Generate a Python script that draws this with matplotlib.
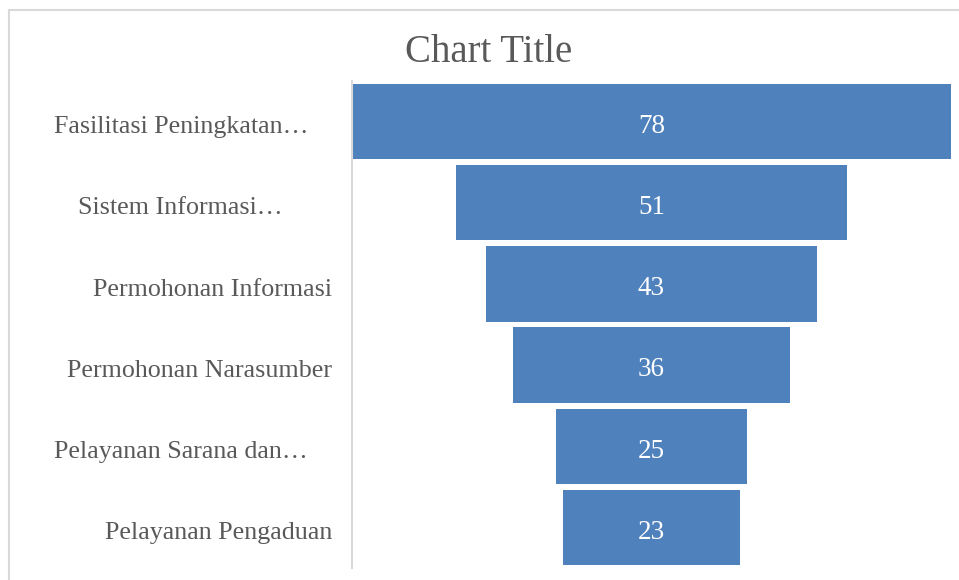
import matplotlib.pyplot as plt
from matplotlib.patches import Rectangle
from matplotlib.transforms import blended_transform_factory

categories = ['Fasilitasi Peningkatan…', 'Sistem Informasi…', 'Permohonan Informasi',
              'Permohonan Narasumber', 'Pelayanan Sarana dan…', 'Pelayanan Pengaduan']
values = [78, 51, 43, 36, 25, 23]

W, H = 959, 580
plt.rcParams['font.family'] = ['Liberation Serif', 'DejaVu Serif']
grey = '#595959'
blue = '#4f81bd'

fig = plt.figure(figsize=(W / 100, H / 100), dpi=100)
# chart border
fig.add_artist(Rectangle((9 / W, -0.05), 1.1, 1.05 - 10.5 / H, transform=fig.transFigure,
                         fill=False, edgecolor='#d9d9d9', linewidth=1.5))

ax = fig.add_axes([352 / W, 1 - 568 / H, (951 - 352) / W, (568 - 81) / H])
y = list(range(len(values)))
ax.barh(y, values, left=[-v / 2 for v in values], height=0.93, color=blue)
ax.set_xlim(-max(values) / 2, max(values) / 2)
ax.set_ylim(len(values) - 0.5, -0.5)

for i, v in enumerate(values):
    ax.text(0, i + 0.06, str(v), ha='center', va='center', color='white', fontsize=19.5)

# category labels, right edges as placed by Excel
right_px = [308, 283, 332, 332, 308, 332]
tr = blended_transform_factory(fig.transFigure, ax.transData)
for i, c in enumerate(categories):
    ax.text(right_px[i] / W, i + 0.07, c, ha='right', va='center', color=grey,
            fontsize=18.7, transform=tr)

ax.set_xticks([])
ax.set_yticks([])
for s in ['top', 'right', 'bottom']:
    ax.spines[s].set_visible(False)
ax.spines['left'].set_color('#d9d9d9')
ax.spines['left'].set_linewidth(1.5)

fig.text(489 / W, 1 - 52 / H, 'Chart Title', ha='center', va='center', color=grey, fontsize=28)

fig.savefig('out.png', dpi=100)
